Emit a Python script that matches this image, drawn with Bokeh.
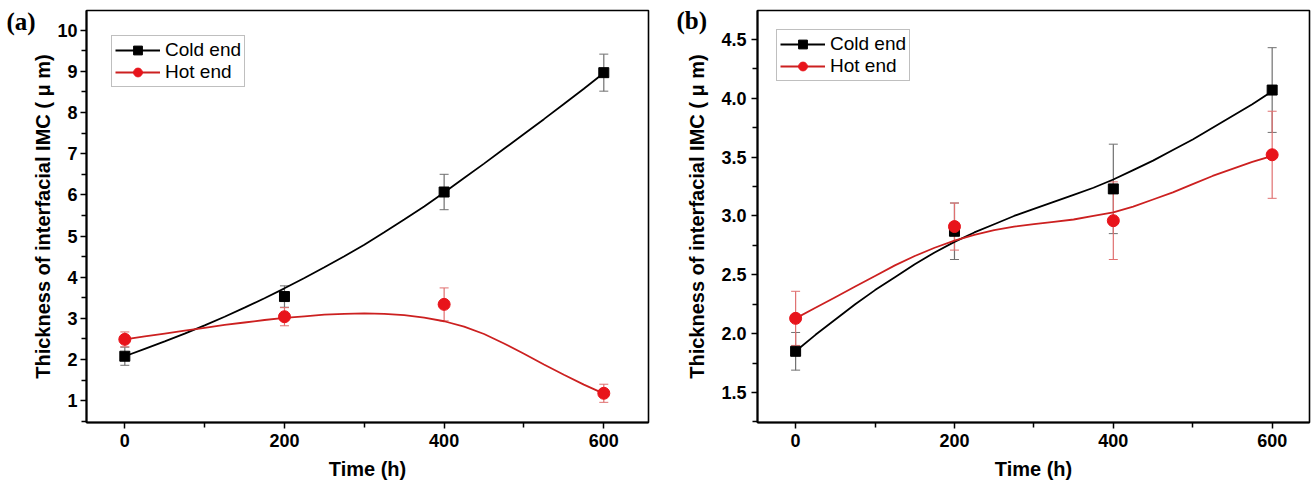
from bokeh.plotting import figure
from bokeh.layouts import row
from bokeh.models import ColumnDataSource, Whisker, Label, Range1d, FixedTicker
from bokeh.embed import file_html
from bokeh.resources import INLINE

# ---------------- data ----------------
time_h = [0, 200, 400, 600]
x_ticks = [0, 200, 400, 600]
x_minor = [100, 300, 500]

a_cold = [2.08, 3.53, 6.07, 8.97]
a_cold_err = [0.22, 0.26, 0.43, 0.45]
a_hot = [2.49, 3.04, 3.34, 1.18]
a_hot_err = [0.18, 0.22, 0.40, 0.22]

b_cold = [1.85, 2.87, 3.23, 4.07]
b_cold_err = [0.16, 0.24, 0.38, 0.36]
b_hot = [2.13, 2.91, 2.96, 3.52]
b_hot_err = [0.23, 0.20, 0.33, 0.37]

# fitted curves, every 25 h
fit_time = [0, 25, 50, 75, 100, 125, 150, 175, 200, 225, 250, 275, 300,
            325, 350, 375, 400, 425, 450, 475, 500, 525, 550, 575, 600]
a_cold_fit = [2.08, 2.26, 2.44, 2.63, 2.83, 3.04, 3.26, 3.49, 3.73, 3.98, 4.24, 4.51, 4.79,
              5.09, 5.40, 5.72, 6.06, 6.41, 6.76, 7.12, 7.48, 7.84, 8.21, 8.58, 8.96]
a_hot_fit = [2.49, 2.56, 2.63, 2.70, 2.77, 2.84, 2.90, 2.96, 3.01, 3.05, 3.09, 3.11, 3.12,
             3.11, 3.08, 3.02, 2.93, 2.80, 2.62, 2.39, 2.14, 1.88, 1.63, 1.39, 1.17]
b_cold_fit = [1.85, 1.99, 2.12, 2.25, 2.37, 2.48, 2.59, 2.69, 2.78, 2.86, 2.93, 3.00, 3.06,
              3.12, 3.18, 3.24, 3.31, 3.39, 3.47, 3.56, 3.65, 3.75, 3.85, 3.95, 4.06]
b_hot_fit = [2.13, 2.22, 2.31, 2.40, 2.49, 2.58, 2.66, 2.73, 2.79, 2.84, 2.88, 2.91, 2.93,
             2.95, 2.97, 3.00, 3.03, 3.08, 3.14, 3.20, 3.27, 3.34, 3.40, 3.46, 3.51]

a_yticks = [1, 2, 3, 4, 5, 6, 7, 8, 9, 10]
a_yminor = [0.5, 1.5, 2.5, 3.5, 4.5, 5.5, 6.5, 7.5, 8.5, 9.5, 10.5]
a_ylabels = ["1", "2", "3", "4", "5", "6", "7", "8", "9", "10"]
b_yticks = [1.5, 2.0, 2.5, 3.0, 3.5, 4.0, 4.5]
b_yminor = [1.25, 1.75, 2.25, 2.75, 3.25, 3.75, 4.25, 4.75]
b_ylabels = ["1.5", "2.0", "2.5", "3.0", "3.5", "4.0", "4.5"]

series_names = ["Cold end", "Hot end"]
x_title = "Time (h)"
y_title = "Thickness of interfacial IMC ( \u03bc m)"

FONT = "Liberation Sans"
BLACK = "#000000"
RED = "#e8141b"
RED_LINE = "#cc2020"


def panel(tag, cold, cold_err, hot, hot_err, cold_fit, hot_fit,
          yticks, yminor, ylabels, yr, xr, width, border_left, border_top,
          leg_margin, tag_dx, tag_dy, ylab_standoff, ytick_standoff):
    p = figure(width=width, height=490, output_backend="svg", toolbar_location=None,
               x_range=Range1d(*xr), y_range=Range1d(*yr),
               min_border_left=border_left, min_border_right=3,
               min_border_top=border_top, min_border_bottom=68)
    p.xgrid.visible = False
    p.ygrid.visible = False
    p.outline_line_color = "black"
    p.outline_line_width = 1.6
    p.background_fill_color = "white"
    p.border_fill_color = "white"

    p.xaxis.ticker = FixedTicker(ticks=x_ticks, minor_ticks=x_minor)
    p.yaxis.ticker = FixedTicker(ticks=yticks, minor_ticks=yminor)
    p.yaxis.major_label_overrides = {t: l for t, l in zip(yticks, ylabels)}
    for ax in (p.xaxis, p.yaxis):
        ax.axis_line_width = 2
        ax.axis_line_color = "black"
        ax.major_tick_line_width = 1.5
        ax.minor_tick_line_width = 1.5
        ax.major_tick_in = 0
        ax.major_tick_out = 6
        ax.minor_tick_in = 0
        ax.minor_tick_out = 5
        ax.major_label_text_font = FONT
        ax.major_label_text_font_style = "bold"
        ax.major_label_text_font_size = "18px"
        ax.major_label_text_color = "black"
        ax.axis_label_text_font = FONT
        ax.axis_label_text_font_style = "bold"
        ax.axis_label_text_font_size = "20px"
        ax.axis_label_text_color = "black"
    p.xaxis.major_label_standoff = 5
    p.yaxis.major_label_standoff = ytick_standoff
    p.xaxis.axis_label = x_title
    p.yaxis.axis_label = y_title
    p.xaxis.axis_label_standoff = 8
    p.yaxis.axis_label_standoff = ylab_standoff

    src_c = ColumnDataSource(dict(x=time_h, y=cold,
                                  lo=[v - e for v, e in zip(cold, cold_err)],
                                  hi=[v + e for v, e in zip(cold, cold_err)]))
    src_h = ColumnDataSource(dict(x=time_h, y=hot,
                                  lo=[v - e for v, e in zip(hot, hot_err)],
                                  hi=[v + e for v, e in zip(hot, hot_err)]))

    p.line(fit_time, cold_fit, line_color=BLACK, line_width=1.8, legend_label=series_names[0])
    wc = Whisker(source=src_c, base="x", lower="lo", upper="hi",
                 line_color="#707070", line_width=1.2)
    wc.upper_head.size = 9
    wc.lower_head.size = 9
    wc.upper_head.line_color = "#707070"
    wc.lower_head.line_color = "#707070"
    p.add_layout(wc)
    p.scatter("x", "y", source=src_c, marker="square", size=10,
              fill_color=BLACK, line_color=BLACK, legend_label=series_names[0])

    p.line(fit_time, hot_fit, line_color=RED_LINE, line_width=1.8, legend_label=series_names[1])
    wh = Whisker(source=src_h, base="x", lower="lo", upper="hi",
                 line_color="#e07070", line_width=1.2)
    wh.upper_head.size = 9
    wh.lower_head.size = 9
    wh.upper_head.line_color = "#e07070"
    wh.lower_head.line_color = "#e07070"
    p.add_layout(wh)
    p.scatter("x", "y", source=src_h, marker="circle", size=12,
              fill_color=RED, line_color=RED, legend_label=series_names[1])

    lg = p.legend[0]
    lg.location = "top_left"
    lg.margin = leg_margin
    lg.padding = 3
    lg.spacing = 0
    lg.glyph_width = 45
    lg.glyph_height = 22
    lg.label_height = 22
    lg.label_standoff = 5
    lg.label_text_font = FONT
    lg.label_text_font_size = "19px"
    lg.label_text_color = "black"
    lg.border_line_color = "#808080"
    lg.border_line_width = 1.5
    lg.background_fill_alpha = 1.0

    # panel tag, placed in the left side panel (side-panel annotations are not clipped)
    p.add_layout(Label(x=xr[0], y=yr[1], x_offset=tag_dx, y_offset=tag_dy,
                       text=tag, text_font="Liberation Serif", text_font_style="bold",
                       text_font_size="25px", text_baseline="top", text_align="left",
                       text_color="black"), "left")
    return p


pa = panel("(a)", a_cold, a_cold_err, a_hot, a_hot_err, a_cold_fit, a_hot_fit,
           a_yticks, a_yminor, a_ylabels, (0.47, 10.48), (-48, 656),
           width=651, border_left=86, border_top=8, leg_margin=25,
           tag_dx=-80, tag_dy=3, ylab_standoff=0, ytick_standoff=3)
pb = panel("(b)", b_cold, b_cold_err, b_hot, b_hot_err, b_cold_fit, b_hot_fit,
           b_yticks, b_yminor, b_ylabels, (1.245, 4.746), (-48, 647),
           width=661, border_left=106, border_top=10, leg_margin=19,
           tag_dx=-81, tag_dy=4, ylab_standoff=10, ytick_standoff=5)

layout = row(pa, pb)
open("out.html", "w").write(file_html(layout, INLINE))
